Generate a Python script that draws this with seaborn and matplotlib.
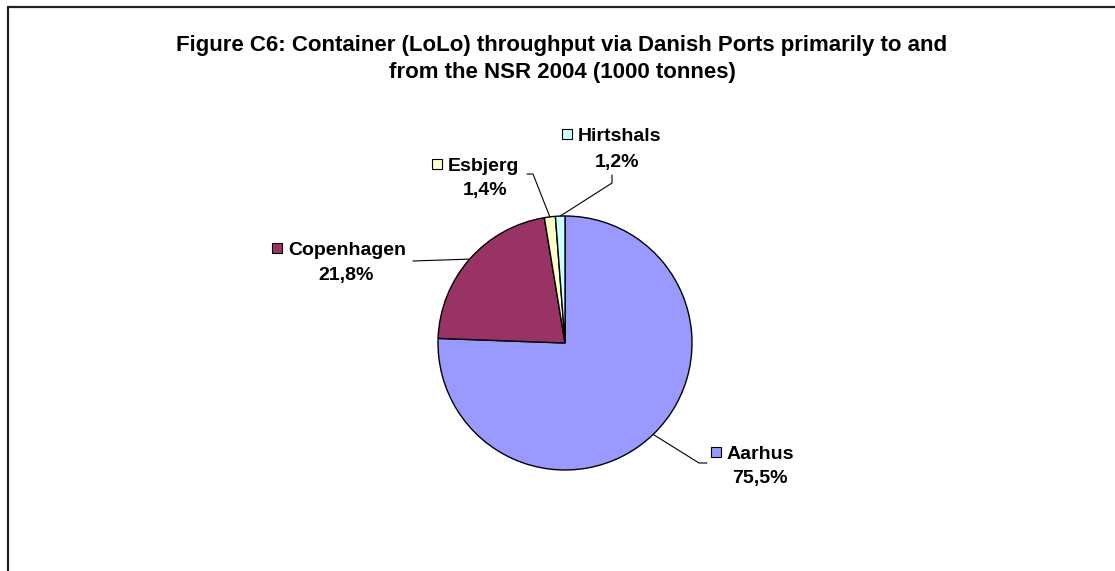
import numpy as np
import matplotlib.pyplot as plt
import seaborn as sns
from matplotlib.patches import Rectangle

sns.set_style("white")
plt.rcParams['font.family'] = ['Liberation Sans', 'DejaVu Sans']
plt.rcParams['text.color'] = 'black'

# Container (LoLo) throughput shares, 2004
ports = ["Aarhus", "Copenhagen", "Esbjerg", "Hirtshals"]
shares = [75.5, 21.8, 1.4, 1.2]
pct_labels = ["75,5%", "21,8%", "1,4%", "1,2%"]
colors = ["#9999FF", "#993366", "#FFFFCC", "#CCFFFF"]

W, H = 1115, 571


def P(x, y):
    # pixel position (top-left origin) -> axes data coords
    return x, H - y


fig = plt.figure(figsize=(W / 100, H / 100), dpi=100)
ax = fig.add_axes([0, 0, 1, 1])

wedges, _ = ax.pie(shares, colors=colors, startangle=90, counterclock=False,
                   center=P(565, 343), radius=127,
                   wedgeprops=dict(edgecolor="black", linewidth=1))
ax.set_xlim(0, W)
ax.set_ylim(0, H)
ax.set_aspect("auto")
ax.axis("off")

# label layout: square left x, name baseline y, percent centre x, percent baseline y
label_pos = [(711, 459, 760, 483),
             (272, 255, 346, 280),
             (432, 171, 485, 195),
             (562, 141, 617, 167)]
# leader line knots after the wedge edge point
leaders = [[(699, 463), (707, 463)],
           [(413, 261)],
           [(533, 174), (527, 174)],
           [(612, 183), (612, 175)]]

fs = 14
for w, name, pct, col, (sx, by, pcx, pby), knots in zip(
        wedges, ports, pct_labels, colors, label_pos, leaders):
    ang = np.deg2rad((w.theta1 + w.theta2) / 2)
    cx, cy = w.center
    ex, ey = cx + w.r * np.cos(ang), cy + w.r * np.sin(ang)
    xs = [ex] + [P(*k)[0] for k in knots]
    ys = [ey] + [P(*k)[1] for k in knots]
    ax.plot(xs, ys, color="black", lw=0.8)

    ax.add_patch(Rectangle(P(sx, by - 2), 10, 10, facecolor=col,
                           edgecolor="black", lw=0.8))
    ax.text(*P(sx + 16, by), name, fontsize=fs, fontweight="bold",
            ha="left", va="baseline")
    ax.text(*P(pcx, pby), pct, fontsize=fs,
            fontweight="bold", ha="center", va="baseline")

# title
fig.text(562 / W, 1 - 51 / H,
         "Figure C6: Container (LoLo) throughput via Danish Ports primarily to and",
         fontsize=16, fontweight="bold", ha="center", va="baseline")
fig.text(562 / W, 1 - 78 / H, "from the NSR 2004 (1000 tonnes)",
         fontsize=16, fontweight="bold", ha="center", va="baseline")

# chart border (top and left edges visible)
ax.plot([8, W], [H - 7, H - 7], color="#222222", lw=1.6, clip_on=False)
ax.plot([8, 8], [H - 7, 0], color="#222222", lw=1.6, clip_on=False)

fig.savefig("out.png", dpi=100)
